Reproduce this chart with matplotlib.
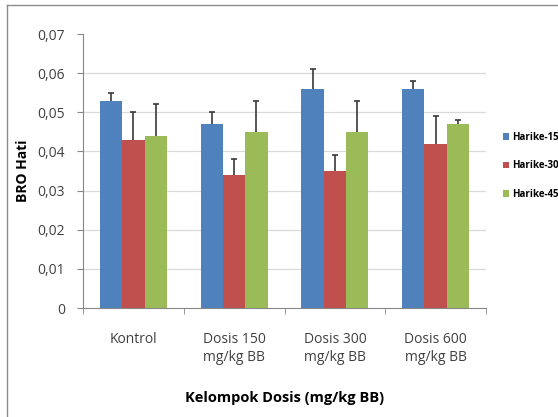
import matplotlib
matplotlib.use("Agg")
import matplotlib.pyplot as plt
from matplotlib.lines import Line2D
import numpy as np

plt.rcParams['font.family'] = ['Open Sans', 'DejaVu Sans']

# data
groups = ["Kontrol", "Dosis 150\nmg/kg BB", "Dosis 300\nmg/kg BB", "Dosis 600\nmg/kg BB"]
series = ["Harike-15", "Harike-30", "Harike-45"]
hari15 = [0.053, 0.047, 0.056, 0.056]
hari30 = [0.043, 0.034, 0.035, 0.042]
hari45 = [0.044, 0.045, 0.045, 0.047]
err15 = [0.002, 0.003, 0.005, 0.002]
err30 = [0.007, 0.004, 0.004, 0.007]
err45 = [0.008, 0.008, 0.008, 0.001]
yticks = [0, 0.01, 0.02, 0.03, 0.04, 0.05, 0.06, 0.07]
ytick_labels = ["0", "0,01", "0,02", "0,03", "0,04", "0,05", "0,06", "0,07"]

colors = ["#4F81BD", "#C0504D", "#9BBB59"]
axis_col = "#868686"
text_col = "#404040"

fig = plt.figure(figsize=(5.58, 4.17), dpi=100)
fig.patch.set_facecolor("white")

# chart frame (left and top edges)
fig.add_artist(Line2D([7 / 558, 7 / 558], [0, 1 - 5 / 417],
                      transform=fig.transFigure, color="#8C8C8C", lw=1.0))
fig.add_artist(Line2D([7 / 558, 1], [1 - 5 / 417, 1 - 5 / 417],
                      transform=fig.transFigure, color="#8C8C8C", lw=1.0))

ax = fig.add_axes([83 / 558, 1 - 308 / 417, 403 / 558, 274 / 417])

x = np.arange(len(groups))
w = 0.222
vals = [hari15, hari30, hari45]
errs = [err15, err30, err45]

for yv in yticks[1:-1]:
    ax.axhline(yv, color="#D9D9D9", lw=0.9, zorder=0)

handles = []
for i, (v, e) in enumerate(zip(vals, errs)):
    pos = x + (i - 1) * w
    b = ax.bar(pos, v, width=w, color=colors[i], zorder=2, label=series[i])
    eb = ax.errorbar(pos, v, yerr=[np.zeros(len(e)), e], fmt="none",
                     ecolor="#3A3A3A", elinewidth=1.2, capsize=2.5, capthick=1.2, zorder=3)
    eb[1][0].set_visible(False)  # no cap at the bar top
    handles.append(b)

ax.set_xlim(-0.5, len(groups) - 0.5)
ax.set_ylim(0, 0.07)
ax.set_yticks(yticks)
ax.set_yticklabels(ytick_labels, fontsize=10, color=text_col)
ax.set_xticks(x)
ax.set_xticklabels(groups, fontsize=10, color=text_col, linespacing=1.3)
ax.set_xticks(np.arange(len(groups) + 1) - 0.5, minor=True)
ax.tick_params(axis="x", which="major", length=0, pad=17)
ax.tick_params(axis="x", which="minor", length=4, color=axis_col, direction="out")
ax.tick_params(axis="y", length=4, color=axis_col, direction="out", pad=9)

for s in ["top", "right"]:
    ax.spines[s].set_visible(False)
ax.spines["left"].set_color(axis_col)
ax.spines["bottom"].set_color(axis_col)

ax.set_ylabel("BRO Hati", fontsize=10, fontweight="bold", labelpad=5)
ax.set_xlabel("Kelompok Dosis (mg/kg BB)", fontsize=10.5, fontweight="bold", labelpad=19)

fig.legend(handles=handles, labels=series, loc="center left",
           bbox_to_anchor=(498 / 558, 1 - 166 / 417), frameon=False,
           prop={"size": 7, "weight": "bold"}, handlelength=0.6, handleheight=0.6,
           handletextpad=0.35, labelspacing=1.8, borderpad=0)

fig.savefig("out.png", dpi=100)
